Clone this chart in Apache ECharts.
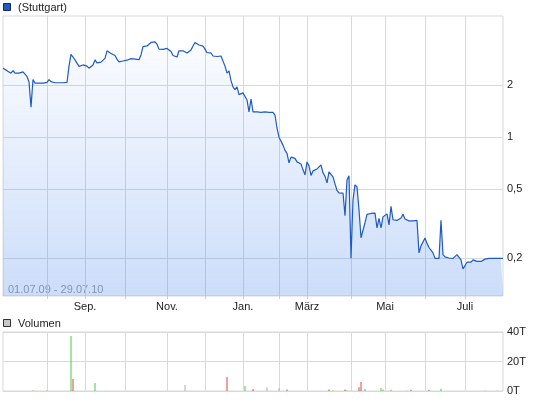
<!DOCTYPE html>
<html><head><meta charset="utf-8">
<script src="https://cdn.jsdelivr.net/npm/echarts@6/dist/echarts.min.js"></script>
<style>html,body{margin:0;padding:0;background:#fff}#c{width:545px;height:401px}</style>
</head><body><div id="c"></div>
<script>
// Price (Stuttgart), one value per step, 01.07.09 - 29.07.10
const priceValues = [
2.50,2.46,2.42,2.39,2.34,2.42,2.34,2.38,2.34,2.30,
2.38,2.39,2.24,2.08,1.49,2.15,2.05,2.09,2.05,2.08,
2.05,2.05,2.07,2.15,2.09,2.08,2.06,2.06,2.06,2.06,
2.06,2.06,2.07,2.57,3.00,2.90,2.79,2.73,2.56,2.61,
2.61,2.61,2.57,2.50,2.50,2.61,2.79,2.68,2.70,2.71,
2.70,2.85,3.15,3.12,3.04,3.00,2.96,2.82,2.72,2.73,
2.75,2.76,2.78,2.79,2.84,2.84,2.82,2.79,2.80,2.98,
3.33,3.41,3.36,3.37,3.52,3.55,3.55,3.44,3.22,3.21,
3.21,3.21,3.25,3.21,3.12,2.96,2.94,2.90,3.15,3.15,
3.15,3.15,3.06,3.12,3.18,3.36,3.52,3.51,3.40,3.44,
3.35,3.22,3.07,3.03,3.06,2.94,2.91,2.92,2.94,2.94,
2.90,2.57,2.34,2.41,2.12,1.95,1.88,1.95,1.76,1.75,
1.80,1.82,1.64,1.40,1.66,1.40,1.40,1.40,1.39,1.39,
1.40,1.40,1.39,1.39,1.39,1.39,1.34,1.13,1.00,1.00,
0.90,0.839,0.806,0.711,0.767,0.770,0.755,0.720,0.720,0.701,
0.648,0.606,0.720,0.683,0.602,0.639,0.648,0.656,0.670,0.692,
0.623,0.594,0.545,0.631,0.623,0.590,0.538,0.494,0.477,0.468,
0.476,0.352,0.567,0.598,0.200,0.435,0.531,0.517,0.381,0.263,
0.262,0.321,0.359,0.364,0.363,0.364,0.365,0.300,0.340,0.300,
0.347,0.354,0.361,0.312,0.399,0.334,0.327,0.331,0.332,0.342,
0.359,0.337,0.332,0.329,0.325,0.329,0.331,0.331,0.215,0.236,
0.233,0.262,0.244,0.231,0.230,0.215,0.200,0.200,0.200,0.332,
0.210,0.204,0.206,0.201,0.200,0.200,0.205,0.210,0.206,0.196,
0.174,0.172,0.190,0.190,0.190,0.196,0.197,0.192,0.192,0.192,
0.192,0.198,0.200,0.200,0.200,0.200,0.200,0.200,0.200,0.200,
0.200
];
const categories = priceValues.map((_, i) => 'd' + i);
// first step of each month
const monthStartIndex = [22, 41, 61, 82, 101, 120, 138, 152, 174, 191, 211, 231];
const monthNames = ['Aug.', 'Sep.', 'Okt.', 'Nov.', 'Dez.', 'Jan.', 'Feb.', 'März', 'Apr.', 'Mai', 'Juni', 'Juli'];
const shownMonths = ['Sep.', 'Nov.', 'Jan.', 'März', 'Mai', 'Juli'];
const priceTicks = [0.2, 0.5, 1, 2];
const volumeTicks = [0, 20, 40];
// volume in thousands: [step, value]
const volumeUp = [[15,0.3],[22,0.3],[34,37.3],[46,5.4],[121,3.4],[165,0.5],[172,0.5],[181,1.4],[189,2.0],[190,1.1],[194,0.9],[219,1.6]];
const volumeDown = [[35,8.1],[112,9.5],[125,1.4],[142,1.1],[163,1.1],[171,1.1],[178,2.5],[179,6.1],[204,0.9],[213,0.9]];
const volumeFlat = [[91,4.0],[132,2.5],[138,1.8],[202,0.4],[241,0.3],[247,0.3]];

function fullSeries(pairs) {
  const arr = categories.map(() => '-');
  pairs.forEach(p => { arr[p[0]] = p[1]; });
  return arr;
}
const isMonthStart = (i) => monthStartIndex.indexOf(i) >= 0;
const monthLabel = (i) => { const k = monthStartIndex.indexOf(i); return k >= 0 ? monthNames[k] : ''; };
const isShown = (i) => shownMonths.indexOf(monthLabel(i)) >= 0;

const FONT = 'Liberation Sans, Arial, sans-serif';
const GRIDC = '#d9d9d9';
const chart = echarts.init(document.getElementById('c'), null, {renderer: 'canvas'});
chart.setOption({
  animation: false,
  textStyle: {fontFamily: FONT},
  grid: [
    {left: 3, right: 42, top: 16, height: 280, show: true, borderColor: GRIDC, borderWidth: 1},
    {left: 3, right: 42, top: 332, height: 59, show: true, borderColor: GRIDC, borderWidth: 1}
  ],
  xAxis: [
    {type: 'category', gridIndex: 0, data: categories, boundaryGap: false,
     axisLine: {show: false},
     axisTick: {show: true, interval: (i) => isMonthStart(i), length: 3, lineStyle: {color: '#cccccc'}},
     axisLabel: {interval: (i) => isShown(i), formatter: (v, i) => monthLabel(i), color: '#222', fontSize: 11, margin: 5, fontFamily: FONT},
     splitLine: {show: true, interval: (i) => isMonthStart(i), lineStyle: {color: GRIDC, width: 1}}},
    {type: 'category', gridIndex: 1, data: categories, boundaryGap: false,
     axisLine: {show: false}, axisTick: {show: false}, axisLabel: {show: false},
     splitLine: {show: true, interval: (i) => isMonthStart(i), lineStyle: {color: GRIDC, width: 1}}}
  ],
  yAxis: [
    {type: 'log', logBase: 10, gridIndex: 0, position: 'right', min: 0.1213, max: 5.0,
     axisLine: {show: false},
     axisTick: {show: false, customValues: priceTicks},
     axisLabel: {customValues: priceTicks, color: '#222', fontSize: 11, margin: 4, fontFamily: FONT,
       formatter: (v) => String(Math.round(v * 10) / 10).replace('.', ',')},
     splitLine: {show: true, lineStyle: {color: GRIDC, width: 1}}},
    {type: 'value', gridIndex: 1, position: 'right', min: 0, max: 40, interval: 20,
     axisLine: {show: false}, axisTick: {show: false},
     axisLabel: {color: '#222', fontSize: 11, margin: 4, fontFamily: FONT, formatter: (v) => v + 'T'},
     splitLine: {show: true, lineStyle: {color: GRIDC, width: 1}}}
  ],
  series: [
    {type: 'line', xAxisIndex: 0, yAxisIndex: 0, data: priceValues, showSymbol: false, symbol: 'none',
     lineStyle: {color: '#1f5bc4', width: 1.2},
     areaStyle: {origin: 'start', color: new echarts.graphic.LinearGradient(0, 16, 0, 296, [
       {offset: 0, color: 'rgba(80,140,240,0.0)'},
       {offset: 1, color: 'rgba(80,140,240,0.42)'}], true)}},
    {type: 'bar', xAxisIndex: 1, yAxisIndex: 1, data: fullSeries(volumeUp), barWidth: 1, barGap: '-100%', itemStyle: {color: '#44cc44'}},
    {type: 'bar', xAxisIndex: 1, yAxisIndex: 1, data: fullSeries(volumeDown), barWidth: 1, barGap: '-100%', itemStyle: {color: '#dd4444'}},
    {type: 'bar', xAxisIndex: 1, yAxisIndex: 1, data: fullSeries(volumeFlat), barWidth: 1, barGap: '-100%', itemStyle: {color: '#b0b0b0'}}
  ],
  graphic: [
    {type: 'rect', shape: {x: 3.5, y: 3.5, width: 7, height: 7}, style: {fill: '#1f5bc4', stroke: '#1a2650', lineWidth: 1}},
    {type: 'text', style: {x: 18, y: 7.5, text: '(Stuttgart)', font: '11px ' + FONT, fill: '#222', verticalAlign: 'middle'}},
    {type: 'rect', shape: {x: 3.5, y: 319.5, width: 7, height: 7}, style: {fill: '#c8c8c8', stroke: '#333', lineWidth: 1}},
    {type: 'text', style: {x: 18, y: 323.5, text: 'Volumen', font: '11px ' + FONT, fill: '#222', verticalAlign: 'middle'}},
    {type: 'text', style: {x: 8, y: 289.5, text: '01.07.09 - 29.07.10', font: '11px ' + FONT, fill: '#999', verticalAlign: 'middle'}}
  ]
});
</script>
</body></html>
